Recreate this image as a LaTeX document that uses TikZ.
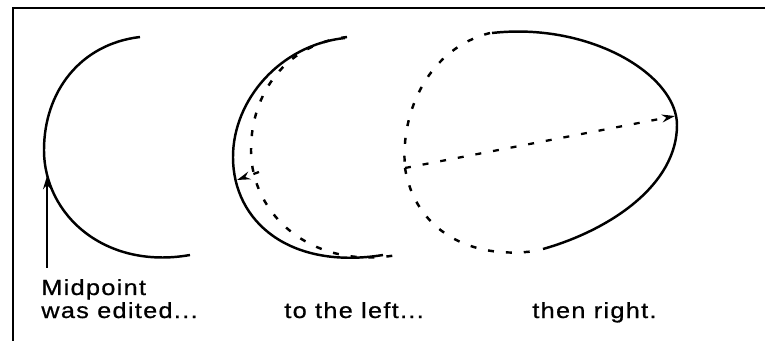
\documentclass[tikz,border=0pt]{standalone}
\usepackage{fontspec}
\setmainfont{Liberation Sans}[FakeStretch=1.15,LetterSpace=6,FakeBold=0.8]
\usetikzlibrary{arrows.meta}
\tikzset{
    frameline/.style={line width=1.5pt},
    curve/.style={line width=1.4pt},
    oldcurve/.style={line width=1.4pt,dash pattern=on 3.4pt off 6.8pt},
    editvec/.style={-{Stealth[length=7.5pt,width=4.5pt]},line width=1.3pt},
    caption/.style={anchor=base west,inner sep=0pt,font=\fontsize{12.5}{12.5}\selectfont}
}
% first shape, reused dashed in the second panel
\newcommand{\firstarc}{(140,37) .. controls (80,44) and (44,92) .. (44,150) .. controls (44,215) and (105,270) .. (190,255)}

\begin{document}
\begin{tikzpicture}[x=0.02cm,y=-0.02cm]
    \useasboundingbox (0,0) rectangle (765,341);
    % Frame
    \draw[frameline] (13,341) -- (13,8) -- (765,8);
    % Panel 1
    \draw[curve] \firstarc;
    \coordinate (mid1) at (47,176);
    \coordinate (tail1) at (47,268);
    \draw[editvec] (tail1) -- (mid1);
    \node[caption] (midtxt) at (41,295) {Midpoint};
    \node[caption] (edtxt) at (41,318) {was edited...};
    % Panel 2
    \begin{scope}[shift={(207,0)}]
        \draw[oldcurve] \firstarc;
    \end{scope}
    \draw[curve] (345,38) .. controls (280,45) and (233,100) .. (233,157) .. controls (233,222) and (290,270) .. (383,255);
    \coordinate (old2) at (259,172);
    \coordinate (new2) at (237,180);
    \draw[editvec,dash pattern=on 3.4pt off 6.8pt] (old2) -- (new2);
    \node[caption] (lefttxt) at (284,318) {to the left...};
    % Panel 3
    \coordinate (old3) at (405,168);
    \coordinate (new3) at (675,116);
    \draw[oldcurve] (490,33) .. controls (430,48) and (400,110) .. (old3);
    \draw[oldcurve] (old3) .. controls (415,230) and (470,260) .. (535,251);
    \draw[curve] (492,33) .. controls (590,22) and (677,75) .. (677,125) .. controls (677,185) and (610,230) .. (543,249);
    \draw[editvec,dash pattern=on 3.4pt off 6.8pt] (old3) -- (new3);
    \node[caption] (righttxt) at (532,318) {then right.};
\end{tikzpicture}
\end{document}
